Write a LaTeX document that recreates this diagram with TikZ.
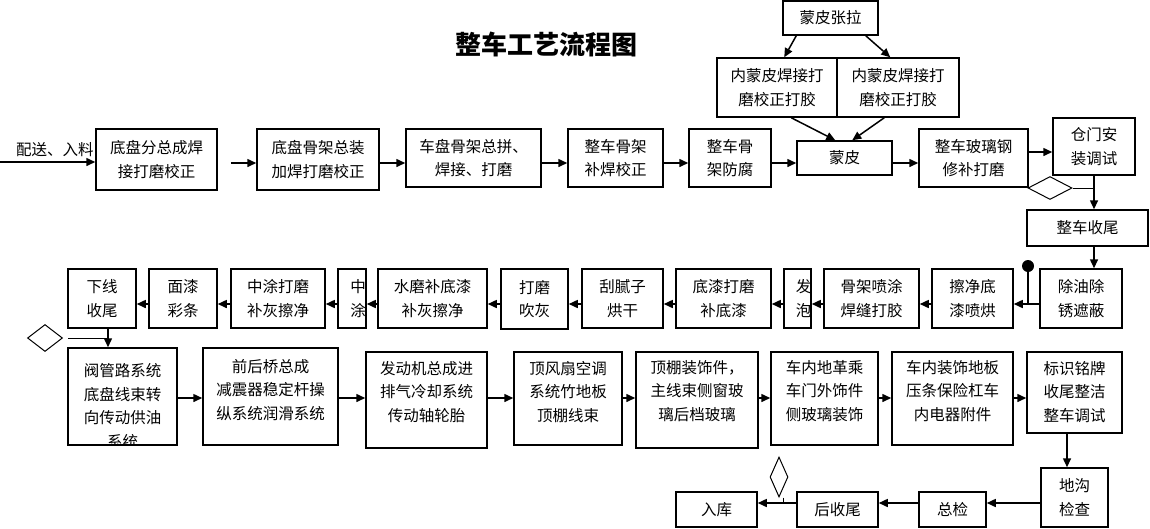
\documentclass[tikz,border=0pt]{standalone}
\usepackage{fontspec}
\setmainfont{Noto Sans CJK SC}
\usetikzlibrary{arrows.meta,shapes.geometric}
\newcommand\boxfont{\fontsize{15.5}{23.5}\selectfont}
\begin{document}
\begin{tikzpicture}[x=1pt,y=-1pt,
  box/.style={draw,line width=1.5pt,inner sep=0pt,align=center,font=\boxfont},
  txt/.style={inner sep=0pt,align=center,font=\boxfont},
  arr/.style={line width=1.5pt,-{Triangle[length=9pt,width=8pt]}},
  ln/.style={line width=1.5pt},
  dia/.style={draw,diamond,inner sep=0pt,line width=1pt}]
\useasboundingbox (0,0) rectangle (1150,528);
\coordinate (r1) at (0,163);
\coordinate (r1b) at (0,152);
\coordinate (r2) at (0,304);
\coordinate (r3) at (0,398);
\coordinate (r4) at (0,503);
\coordinate (src) at (0,162);
\coordinate (vx) at (1094,0);
\coordinate (vx2) at (108,0);
\coordinate (vx3) at (1067,0);

\node[font=\fontsize{26}{30}\selectfont\bfseries] (title) at (546,44) {整车工艺流程图};

% row 1
\node[txt] (inlab) at (55,150) {配送、入料};
\node[box,minimum width=121,minimum height=61] (a1) at (156.5,159.5) {底盘分总成焊\\接打磨校正};
\node[box,minimum width=122,minimum height=61] (a2) at (318,159.5) {底盘骨架总装\\加焊打磨校正};
\node[box,minimum width=135,minimum height=58] (a3) at (473.5,158) {车盘骨架总拼、\\焊接、打磨};
\node[box,minimum width=95,minimum height=58] (a4) at (615.5,158) {整车骨架\\补焊校正};
\node[box,minimum width=82,minimum height=58] (a5) at (730,158) {整车骨\\架防腐};
\node[box,minimum width=95,minimum height=34] (a6) at (844.5,158) {蒙皮};
\node[box,minimum width=109,minimum height=58] (a7) at (973.5,158) {整车玻璃钢\\修补打磨};
\node[box,minimum width=82,minimum height=57] (a8) at (1094,146.5) {仓门安\\装调试};
\node[box,minimum width=121,minimum height=36] (a9) at (1087.5,228) {整车收尾};
\node[box,minimum width=95,minimum height=34] (t0) at (830.5,18) {蒙皮张拉};
\node[box,minimum width=120,minimum height=59] (t1) at (777,87.5) {内蒙皮焊接打\\磨校正打胶};
\node[box,minimum width=122,minimum height=59] (t2) at (898,87.5) {内蒙皮焊接打\\磨校正打胶};
\node[dia,aspect=2,minimum width=44,minimum height=23] (d1) at (1050,188) {};

\draw[arr] (src) -- (a1.west |- src);
\draw[arr,shorten <=13pt] (a1.east |- r1) -- (a2.west |- r1);
\draw[arr] (a2.east |- r1) -- (a3.west |- r1);
\draw[arr] (a3.east |- r1) -- (a4.west |- r1);
\draw[arr] (a4.east |- r1) -- (a5.west |- r1);
\draw[arr] (a5.east |- r1) -- (a6.west |- r1);
\draw[arr] (a6.east |- r1) -- (a7.west |- r1);
\draw[arr] (a7.east |- r1b) -- (a8.west |- r1b);
\draw[arr] ([xshift=14pt]t0.south west) -- ([xshift=68pt]t1.north west);
\draw[arr] ([xshift=-13pt]t0.south east) -- ([xshift=54pt]t2.north west);
\draw[arr] ([xshift=75pt]t1.south west) -- ([xshift=39pt]a6.north west);
\draw[arr] ([xshift=48pt]t2.south west) -- ([xshift=56pt]a6.north west);
\draw[line width=1pt] (d1.east) -- (d1.east -| vx);
\draw[arr] (a8.south -| vx) -- (a9.north -| vx);

% row 2
\node[box,minimum width=82,minimum height=59] (b1) at (1081,298.5) {除油除\\锈遮蔽};
\node[box,minimum width=81,minimum height=59] (b2) at (972.5,298.5) {擦净底\\漆喷烘};
\node[box,minimum width=95,minimum height=59] (b3) at (871.5,298.5) {骨架喷涂\\焊缝打胶};
\node[box,minimum width=27,minimum height=59] (b4) at (797.5,298.5) {};
\node[txt] (b4t) at ([xshift=6pt]b4.center) {发\\泡};
\node[box,minimum width=95,minimum height=59] (b5) at (723.5,298.5) {底漆打磨\\补底漆};
\node[box,minimum width=81,minimum height=59] (b6) at (622.5,298.5) {刮腻子\\烘干};
\node[box,minimum width=67,minimum height=60] (b7) at (534.5,299) {打磨\\吹灰};
\node[box,minimum width=109,minimum height=59] (b8) at (432.5,298.5) {水磨补底漆\\补灰擦净};
\node[box,minimum width=28,minimum height=59] (b9) at (352,298.5) {};
\node[txt] (b9t) at ([xshift=6pt]b9.center) {中\\涂};
\node[box,minimum width=94,minimum height=59] (b10) at (278,298.5) {中涂打磨\\补灰擦净};
\node[box,minimum width=68,minimum height=59] (b11) at (183,298.5) {面漆\\彩条};
\node[box,minimum width=68,minimum height=59] (b12) at (102,298.5) {下线\\收尾};
\node[circle,fill,minimum size=12pt,inner sep=0pt] (dot) at (1028,266) {};
\node[dia,aspect=1.3,minimum width=35,minimum height=27] (d2) at (45,338) {};

\draw[arr] (a9.south -| vx) -- (b1.north -| vx);
\draw[ln] (dot.center) -- (dot.center |- r2);
\draw[arr] (b1.west |- r2) -- (b2.east |- r2);
\draw[arr] (b2.west |- r2) -- (b3.east |- r2);
\draw[arr] (b3.west |- r2) -- (b4.east |- r2);
\draw[arr] (b4.west |- r2) -- (b5.east |- r2);
\draw[arr] (b5.west |- r2) -- (b6.east |- r2);
\draw[arr] (b6.west |- r2) -- (b7.east |- r2);
\draw[arr] (b7.west |- r2) -- (b8.east |- r2);
\draw[arr] (b8.west |- r2) -- (b9.east |- r2);
\draw[arr] (b9.west |- r2) -- (b10.east |- r2);
\draw[arr] (b10.west |- r2) -- (b11.east |- r2);
\draw[arr] (b11.west |- r2) -- (b12.east |- r2);

% row 3
\node[box,minimum width=109,minimum height=97] (c1) at (122.5,396.5) {};
\begin{scope}
\clip ([shift={(0.75pt,0.75pt)}]c1.south west) rectangle ([shift={(-0.75pt,-0.75pt)}]c1.north east);
\node[txt] (c1t) at (122.5,406) {阀管路系统\\底盘线束转\\向传动供油\\系统};
\end{scope}
\node[box,minimum width=135,minimum height=97] (c2) at (270.5,396.5) {};
\node[txt] (c2t) at (270.5,390) {前后桥总成\\减震器稳定杆操\\纵系统润滑系统};
\node[box,minimum width=121,minimum height=96] (c3) at (426.5,400) {};
\node[txt] (c3t) at (426.5,392) {发动机总成进\\排气冷却系统\\传动轴轮胎};
\node[box,minimum width=108,minimum height=93] (c4) at (568,398.5) {};
\node[txt] (c4t) at (568,392) {顶风扇空调\\系统竹地板\\顶棚线束};
\node[box,minimum width=122,minimum height=96] (c5) at (697,400) {};
\node[txt] (c5t) at (697,391) {顶棚装饰件，\\主线束侧窗玻\\璃后档玻璃};
\node[box,minimum width=107,minimum height=93] (c6) at (824.5,398.5) {};
\node[txt] (c6t) at (824.5,391) {车内地革乘\\车门外饰件\\侧玻璃装饰};
\node[box,minimum width=121,minimum height=93] (c7) at (952.5,398.5) {};
\node[txt] (c7t) at (952.5,391) {车内装饰地板\\压条保险杠车\\内电器附件};
\node[box,minimum width=95,minimum height=81] (c8) at (1074.5,392.5) {};
\node[txt] (c8t) at (1074.5,392) {标识铭牌\\收尾整洁\\整车调试};

\draw[line width=1pt,shorten <=5pt] (d2.east) -- (d2.east -| vx2);
\draw[arr] (b12.south -| vx2) -- (c1.north -| vx2);
\draw[arr] (c1.east |- r3) -- (c2.west |- r3);
\draw[arr] (c2.east |- r3) -- (c3.west |- r3);
\draw[arr] (c3.east |- r3) -- (c4.west |- r3);
\draw[arr] (c4.east |- r3) -- (c5.west |- r3);
\draw[arr] (c5.east |- r3) -- (c6.west |- r3);
\draw[arr] (c6.east |- r3) -- (c7.west |- r3);
\draw[arr] (c7.east |- r3) -- (c8.west |- r3);

% row 4
\node[box,minimum width=67,minimum height=59] (e1) at (1074.5,497.5) {地沟\\检查};
\node[box,minimum width=67,minimum height=35] (e2) at (952.5,509.5) {总检};
\node[box,minimum width=81,minimum height=35] (e3) at (837.5,509.5) {后收尾};
\node[box,minimum width=81,minimum height=35] (e4) at (716.5,509.5) {入库};
\node[dia,aspect=0.45,minimum width=18,minimum height=40] (d3) at (779,477) {};

\draw[arr] (c8.south -| vx3) -- (e1.north -| vx3);
\draw[arr] (e1.west |- r4) -- (e2.east |- r4);
\draw[arr] (e2.west |- r4) -- (e3.east |- r4);
\draw[arr] (e3.west |- r4) -- (e4.east |- r4);
\draw[line width=1pt] ([xshift=4pt]d3.south) -- ([xshift=4pt]d3.south |- r4);
\end{tikzpicture}
\end{document}
